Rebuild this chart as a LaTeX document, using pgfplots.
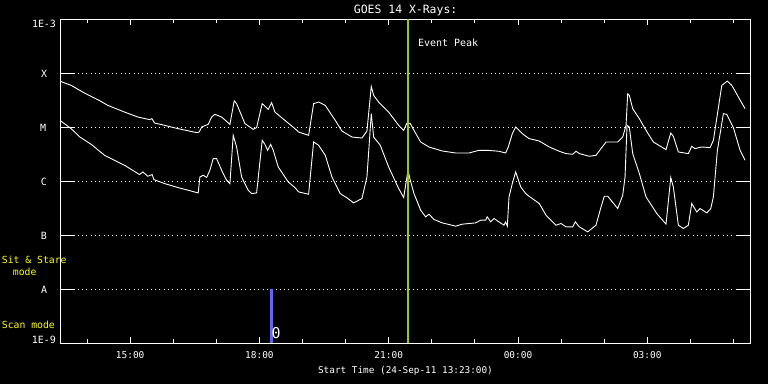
\documentclass[border=0pt]{standalone}
\usepackage{fontspec}
\setmainfont{DejaVu Sans Mono}
\usepackage{pgfplots}
\pgfplotsset{compat=1.18}
\usepackage{pgfplotstable}
\definecolor{peak}{RGB}{154,205,0}
\definecolor{scan}{RGB}{100,100,240}
\definecolor{modey}{RGB}{255,255,0}

% long wavelength channel (1-8 A), x = hours from 24-Sep 00:00, y = log10(flux W/m^2)
\pgfplotstableread{
h e
13.385 -4.148
13.631 -4.222
13.942 -4.365
14.250 -4.487
14.483 -4.593
14.870 -4.717
15.179 -4.809
15.451 -4.857
15.504 -4.839
15.567 -4.920
15.799 -4.963
16.108 -5.024
16.542 -5.098
16.602 -5.087
16.658 -4.994
16.811 -4.944
16.890 -4.809
16.966 -4.759
17.122 -4.809
17.315 -4.944
17.414 -4.509
17.470 -4.561
17.663 -4.931
17.855 -5.037
17.934 -5.006
18.064 -4.561
18.127 -4.606
18.204 -4.667
18.283 -4.543
18.359 -4.717
18.823 -5.024
18.909 -5.087
19.141 -5.148
19.257 -4.561
19.374 -4.531
19.527 -4.593
19.759 -4.870
19.914 -5.069
20.147 -5.180
20.379 -5.198
20.495 -5.069
20.595 -4.241
20.650 -4.407
20.766 -4.531
20.998 -4.717
21.231 -4.963
21.347 -5.056
21.423 -4.920
21.500 -4.931
21.586 -5.056
21.741 -5.272
21.934 -5.365
22.243 -5.439
22.554 -5.476
22.862 -5.476
23.095 -5.426
23.287 -5.426
23.559 -5.444
23.714 -5.476
23.775 -5.365
23.868 -5.117
23.946 -4.994
24.100 -5.117
24.255 -5.209
24.494 -5.254
24.726 -5.365
24.959 -5.444
25.114 -5.487
25.270 -5.500
25.346 -5.444
25.423 -5.487
25.655 -5.537
25.810 -5.519
25.927 -5.394
26.043 -5.272
26.314 -5.272
26.430 -5.180
26.507 -4.963
26.546 -4.376
26.583 -4.407
26.662 -4.654
26.816 -4.839
26.971 -5.056
27.141 -5.272
27.435 -5.413
27.545 -5.106
27.605 -5.167
27.721 -5.457
27.953 -5.487
28.032 -5.352
28.108 -5.394
28.264 -5.365
28.457 -5.376
28.534 -5.241
28.729 -4.222
28.858 -4.143
28.961 -4.222
29.269 -4.654
}\longwave

% short wavelength channel (0.5-4 A)
\pgfplotstableread{
h e
13.385 -4.880
13.631 -5.024
13.833 -5.180
14.095 -5.315
14.406 -5.519
14.870 -5.704
15.218 -5.876
15.295 -5.828
15.411 -5.907
15.511 -5.876
15.550 -5.969
15.799 -6.043
16.108 -6.117
16.347 -6.167
16.579 -6.217
16.618 -5.920
16.695 -5.889
16.774 -5.931
16.850 -5.796
16.927 -5.580
17.006 -5.580
17.122 -5.796
17.238 -5.981
17.315 -6.043
17.391 -5.148
17.470 -5.365
17.586 -5.920
17.739 -6.167
17.818 -6.228
17.934 -6.217
18.064 -5.241
18.127 -5.315
18.190 -5.426
18.259 -5.315
18.320 -5.426
18.436 -5.735
18.668 -6.013
18.823 -6.117
18.909 -6.198
19.141 -6.241
19.257 -5.272
19.374 -5.333
19.527 -5.519
19.682 -5.920
19.875 -6.228
20.031 -6.309
20.186 -6.402
20.379 -6.320
20.495 -5.920
20.595 -4.746
20.650 -5.180
20.804 -5.333
20.998 -5.735
21.231 -6.135
21.347 -6.302
21.447 -5.796
21.500 -5.981
21.586 -6.228
21.741 -6.537
21.857 -6.661
21.934 -6.611
22.050 -6.709
22.243 -6.772
22.554 -6.833
22.707 -6.796
23.018 -6.772
23.134 -6.722
23.250 -6.722
23.287 -6.661
23.366 -6.754
23.443 -6.691
23.559 -6.754
23.675 -6.815
23.714 -6.754
23.752 -6.833
23.791 -6.291
23.868 -6.043
23.946 -5.828
24.063 -6.106
24.179 -6.228
24.255 -6.278
24.494 -6.413
24.650 -6.630
24.882 -6.815
24.998 -6.783
25.114 -6.846
25.270 -6.846
25.330 -6.754
25.423 -6.846
25.618 -6.939
25.810 -6.815
25.927 -6.476
26.003 -6.278
26.082 -6.278
26.314 -6.506
26.430 -6.259
26.484 -5.920
26.530 -4.963
26.583 -4.994
26.662 -5.487
26.816 -5.857
26.971 -6.291
27.220 -6.598
27.435 -6.796
27.545 -5.931
27.605 -6.106
27.721 -6.815
27.837 -6.876
27.953 -6.815
28.032 -6.413
28.148 -6.569
28.225 -6.506
28.381 -6.587
28.473 -6.506
28.534 -6.291
28.627 -5.426
28.766 -4.746
28.845 -4.759
28.998 -5.006
29.154 -5.426
29.269 -5.611
}\shortwave

\begin{document}
\begin{tikzpicture}
\path[fill=black, use as bounding box] (-60.5bp,-41bp) rectangle (707.5bp,343bp);
\begin{axis}[
  at={(0,0)}, anchor=south west,
  scale only axis, width=690.2bp, height=323.5bp,
  xmin=13.3833, xmax=29.40, ymin=-9, ymax=-3,
  axis line style={white, line width=0.9bp},
  xtick={15,18,21,24,27},
  xticklabels={15:00,18:00,21:00,00:00,03:00},
  minor xtick={14,16,17,19,20,22,23,25,26,28,29},
  major tick length=6bp, minor tick length=3.5bp,
  every tick/.style={white, line width=0.9bp},
  ytick={-8,-7,-6,-5,-4}, yticklabels={},
  ymajorgrids,
  major grid style={white, line width=0.9bp, dash pattern=on 0.9bp off 3.4bp},
  xticklabel style={white, font=\fontsize{9.5}{11}\selectfont, inner sep=0pt, anchor=north, yshift=-8bp},
  /pgf/number format/assume math mode=true,
]
\addplot[white, line width=0.9bp] table[x=h, y=e] {\longwave};
\addplot[white, line width=0.9bp] table[x=h, y=e] {\shortwave};
\addplot[peak, line width=2.6bp] coordinates {(21.447,-9) (21.447,-3)};
\addplot[scan, line width=3bp] coordinates {(18.289,-9) (18.289,-8)};
\pgfplotsinvokeforeach{-8,-7,-6,-5,-4}{
  \draw[white, line width=0.9bp] (axis cs:13.3833,#1) -- ++(14.5bp,0bp);
  \draw[white, line width=0.9bp] (axis cs:29.40,#1) -- ++(-15bp,0bp);
}
\end{axis}
% title and labels
\node[anchor=base, white, inner sep=0pt, font=\fontsize{11.5}{13}\selectfont] at (345.1bp,329bp) {GOES 14 X-Rays:};
\node[anchor=base, white, inner sep=0pt, font=\fontsize{9.4}{11}\selectfont] at (345bp,-30bp) {Start Time (24-Sep-11 13:23:00)};
\node[anchor=base west, white, inner sep=0pt, font=\fontsize{10}{12}\selectfont] at (357.5bp,296.3bp) {Event Peak};
% y tick labels
\begin{scope}[every node/.style={white, inner sep=0pt, anchor=center, font=\fontsize{10}{12}\selectfont}]
\node at (-16.5bp,319.3bp) {1E-3};
\node at (-16.5bp,269.3bp) {X};
\node at (-17.5bp,214.7bp) {M};
\node at (-16.7bp,160.7bp) {C};
\node at (-16.7bp,107.3bp) {B};
\node at (-16.5bp,52.7bp) {A};
\node at (-16.7bp,3bp) {1E-9};
\end{scope}
% mode labels
\begin{scope}[every node/.style={modey, inner sep=0pt, anchor=base west, font=\fontsize{9.8}{12}\selectfont}]
\node at (-58.8bp,79.7bp) {Sit \& Stare};
\node at (-47.8bp,67.7bp) {mode};
\node at (-58.8bp,14.3bp) {Scan mode};
\end{scope}
\node[white, inner sep=0pt, anchor=center, font=\fontsize{15}{17}\selectfont] at (215.7bp,10.1bp) {0};
\end{tikzpicture}
\end{document}
